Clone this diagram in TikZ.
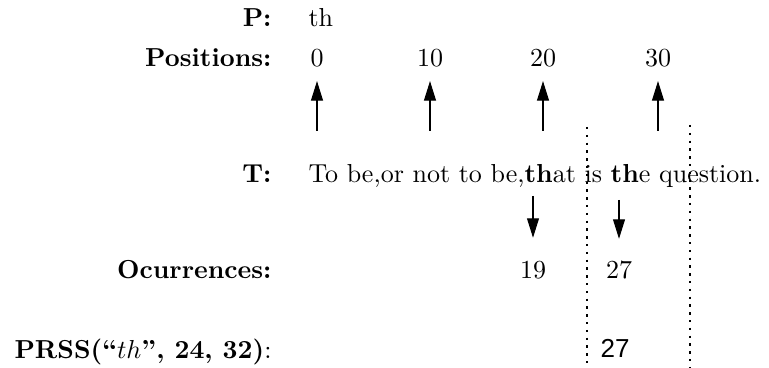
\documentclass[tikz,border=0pt]{standalone}
\usepackage{fontspec}
\usepackage{tikz}
\usetikzlibrary{arrows.meta, positioning}
\newfontfamily\helvfont{Liberation Sans}

\begin{document}
\begin{tikzpicture}[
        x=0.3846pt, y=-0.3846pt,
        lbl/.style={anchor=base east, inner sep=0pt, font=\bfseries},
        val/.style={anchor=base west, inner sep=0pt},
        num/.style={anchor=base, inner sep=0pt},
        arr/.style={-{Triangle[length=7.5pt, width=4.6pt]}, line width=0.4pt},
        win/.style={dash pattern=on 0.9pt off 2.1pt, line width=0.4pt},
    ]
        \useasboundingbox (0,0) rectangle (769,368);

        % Pattern and positions
        \node[lbl] (plbl) at (272,27) {P:};
        \node[val] (pat) at (308,27) {th};
        \node[lbl] (poslbl) at (272,67) {Positions:};
        \foreach \p/\x in {0/317, 10/430, 20/543, 30/658} {
            \node[num] (pos\p) at (\x,67) {\p};
            \coordinate (up\p) at (\x,131);
            \draw[arr, shorten >=5pt] (up\p) -- (pos\p.south);
        }

        % Text
        \node[lbl] (tlbl) at (272,183) {T:};
        \node[val] (text) at (308,183) {To be,or not to be,\textbf{th}at is \textbf{th}e question.};

        % Search window
        \coordinate (wlt) at (587,127);
        \coordinate (wlb) at (587,368);
        \coordinate (wrt) at (690,125);
        \coordinate (wrb) at (690,368);
        \draw[win] (wlt) -- (wlb);
        \draw[win] (wrt) -- (wrb);

        % Occurrences
        \node[lbl] (occlbl) at (272,279) {Ocurrences:};
        \node[num] (occ19) at (533,279) {19};
        \node[num] (occ27) at (619,279) {27};
        \coordinate (dn19) at (533,196);
        \coordinate (dn27) at (619,200);
        \draw[arr, shorten >=9pt] (dn19) -- (occ19.north);
        \draw[arr, shorten >=8.5pt] (dn27) -- (occ27.north);

        % Query result
        \node[lbl] (prsslbl) at (272,359) {PRSS(“$th$”, 24, 32)\mdseries:};
        \node[num, font=\helvfont] (res27) at (615,358) {27};
    \end{tikzpicture}
\end{document}
